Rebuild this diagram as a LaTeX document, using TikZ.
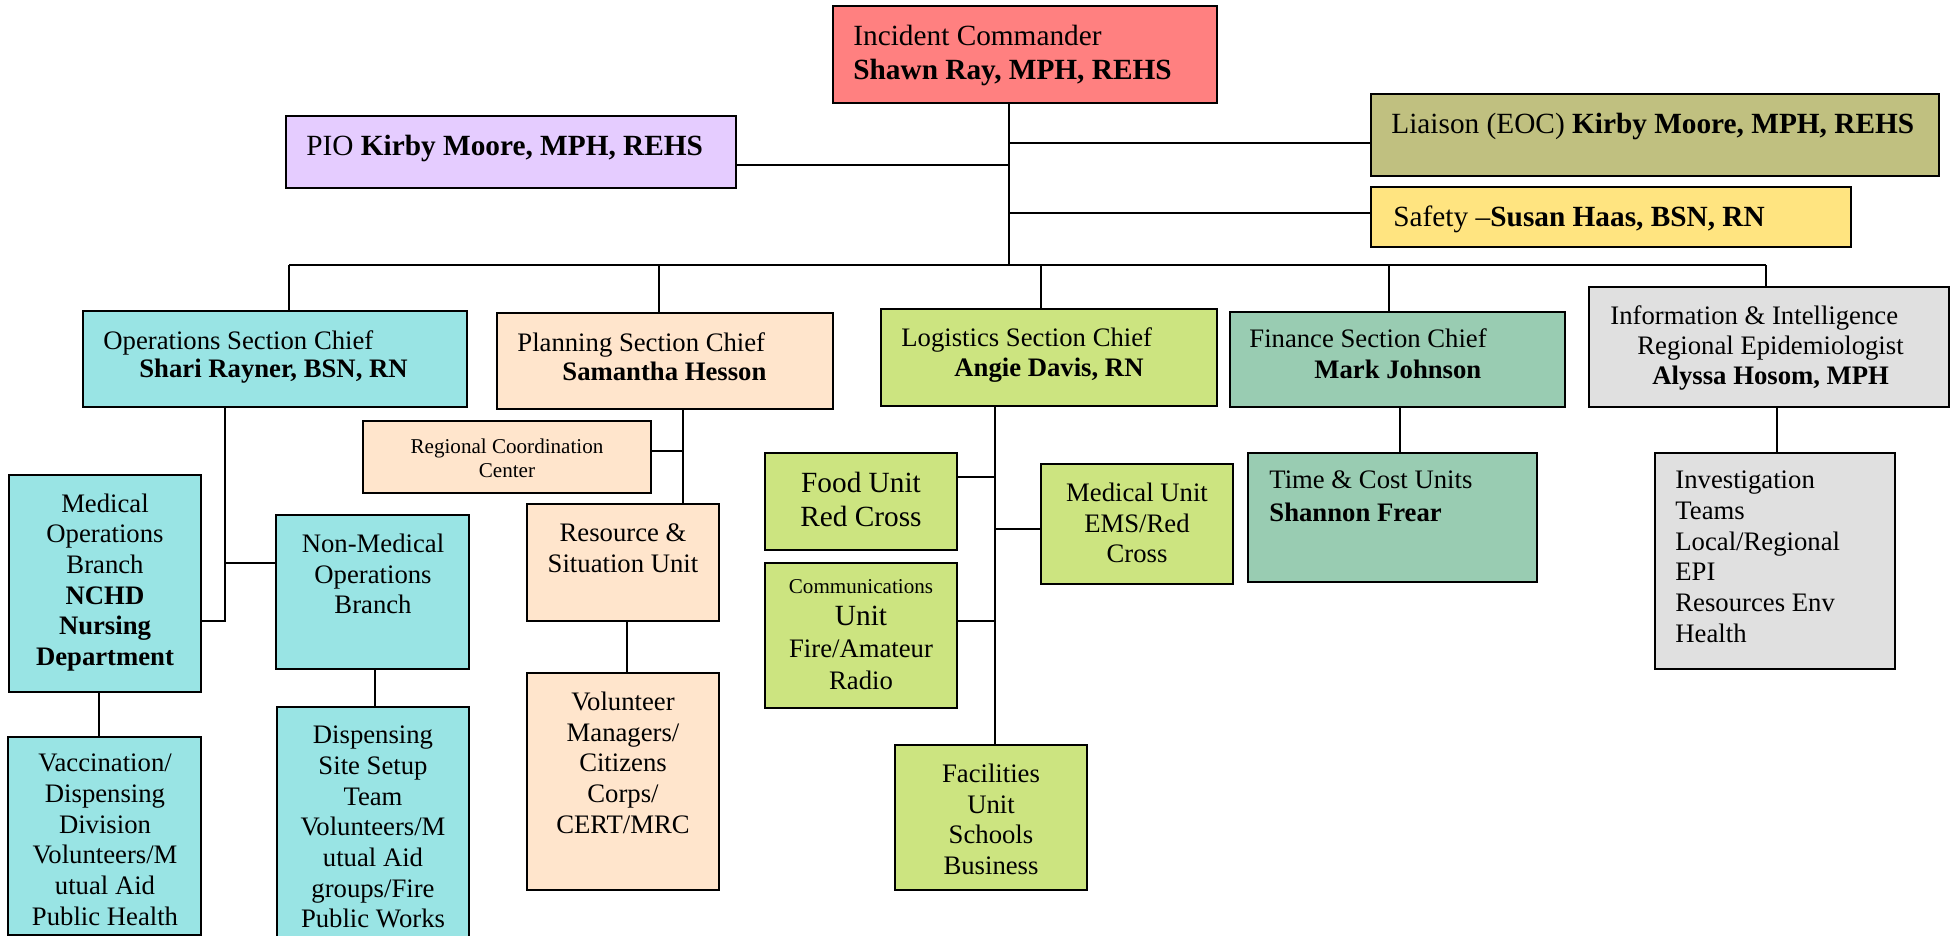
\documentclass[tikz,border=0pt]{standalone}
\usepackage{fontspec}
\setmainfont{Liberation Serif}
\usetikzlibrary{fit}
\definecolor{icred}{RGB}{255,128,128}
\definecolor{piocol}{RGB}{229,204,255}
\definecolor{licol}{RGB}{192,192,128}
\definecolor{sacol}{RGB}{255,228,128}
\definecolor{opscol}{RGB}{153,228,228}
\definecolor{plcol}{RGB}{255,229,204}
\definecolor{locol}{RGB}{204,228,128}
\definecolor{ficol}{RGB}{153,204,178}
\definecolor{infcol}{RGB}{224,224,224}
\newcommand\szN{\fontsize{13.35}{15.35}\selectfont}
\newcommand\szL{\fontsize{14.65}{17}\selectfont}
\newcommand\szS{\fontsize{10.55}{12.25}\selectfont}
\begin{document}
\begin{tikzpicture}[x=0.5pt,y=-0.5pt,
  box/.style={draw=black, line width=1.1pt, inner sep=0pt, outer sep=0pt},
  conn/.style={line width=0.9pt},
  tl/.style={inner sep=0pt, anchor=north west, align=left, font=\szN},
  tc/.style={inner sep=0pt, anchor=north, align=center, font=\szN},
]
\useasboundingbox (0,0) rectangle (1958,936);
\fill[white] (0,0) rectangle (1958,936);

% ---------- boxes ----------
\node[box, fill=icred,  fit={(833,6) (1217,103)}] (ic) {};
\node[box, fill=piocol, fit={(286,116) (736,188)}] (pio) {};
\node[box, fill=licol,  fit={(1371,94) (1939,176)}] (li) {};
\node[box, fill=sacol,  fit={(1371,187) (1851,247)}] (sa) {};
\node[box, fill=opscol, fit={(83,311) (467,407)}] (ops) {};
\node[box, fill=plcol,  fit={(497,313) (833,409)}] (pl) {};
\node[box, fill=locol,  fit={(881,309) (1217,406)}] (lo) {};
\node[box, fill=ficol,  fit={(1230,312) (1565,407)}] (fi) {};
\node[box, fill=infcol, fit={(1589,287) (1949,407)}] (inf) {};
\node[box, fill=opscol, fit={(9,475) (201,692)}] (med) {};
\node[box, fill=opscol, fit={(8,737) (201,935)}] (vac) {};
\node[box, fill=opscol, fit={(276,515) (469,669)}] (nm) {};
\node[box, fill=opscol, fit={(277,707) (469,945)}] (disp) {};
\node[box, fill=plcol,  fit={(363,421) (651,493)}] (rcc) {};
\node[box, fill=plcol,  fit={(527,504) (719,621)}] (res) {};
\node[box, fill=plcol,  fit={(527,673) (719,890)}] (vol) {};
\node[box, fill=locol,  fit={(765,453) (957,550)}] (food) {};
\node[box, fill=locol,  fit={(765,563) (957,708)}] (comm) {};
\node[box, fill=locol,  fit={(1041,464) (1233,584)}] (mu) {};
\node[box, fill=locol,  fit={(895,745) (1087,890)}] (fac) {};
\node[box, fill=ficol,  fit={(1248,453) (1537,582)}] (tc) {};
\node[box, fill=infcol, fit={(1655,453) (1895,669)}] (inv) {};

% ---------- texts ----------
\node[tl, font=\szL] (icT) at (853,24.7) {Incident Commander\\\textbf{Shawn Ray, MPH, REHS}};
\node[tl, font=\szL] (pioT) at (306,134.7) {PIO \textbf{Kirby Moore, MPH, REHS}};
\node[tl, font=\szL] (liT) at (1391,112.7) {Liaison (EOC) \textbf{Kirby Moore, MPH, REHS}};
\node[tl, font=\szL] (saT) at (1393,205.7) {Safety –\textbf{Susan Haas, BSN, RN}};

\node[tl] (opsT1) at (103,330.6) {Operations Section Chief};
\node[tl] (opsT2) at (139,359) {\textbf{Shari Rayner, BSN, RN}};
\node[tl] (plT1) at (517,332.6) {Planning Section Chief};
\node[tl] (plT2) at (562,361.6) {\textbf{Samantha Hesson}};
\node[tl] (loT1) at (901,327.6) {Logistics Section Chief};
\node[tl] (loT2) at (954,357.6) {\textbf{Angie Davis, RN}};
\node[tl] (fiT1) at (1249,328.6) {Finance Section Chief};
\node[tl] (fiT2) at (1314,359.6) {\textbf{Mark Johnson}};
\node[tl] (infT1) at (1610,305.6) {Information \& Intelligence};
\node[tl] (infT2) at (1637,335.6) {Regional Epidemiologist};
\node[tl] (infT3) at (1652,365.6) {\textbf{Alyssa Hosom, MPH}};

\node[tc] (medT) at (105,493.2) {Medical\\Operations\\Branch\\\textbf{NCHD}\\\textbf{Nursing}\\\textbf{Department}};
\node[tc] (vacT) at (105,753.6) {Vaccination/\\Dispensing\\Division\\Volunteers/M\\utual Aid\\Public Health};
\node[tc] (nmT) at (373,533.6) {Non-Medical\\Operations\\Branch};
\node[tc] (dispT) at (373,725.6) {Dispensing\\Site Setup\\Team\\Volunteers/M\\utual Aid\\groups/Fire\\Public Works};
\node[tc, font=\szS] (rccT) at (507,438) {Regional Coordination\\Center};
\node[tc] (resT) at (623,523.6) {Resource \&\\Situation Unit};
\node[tc] (volT) at (623,691.6) {Volunteer\\Managers/\\Citizens\\Corps/\\CERT/MRC};
\node[tc, font=\szL] (foodT) at (861,471.7) {Food Unit\\Red Cross};
\node[tc, font=\szS] (commT1) at (861,579.6) {Communications};
\node[tc, font=\szL] (commT2) at (861,606) {Unit};
\node[tc] (commT3) at (861,639.6) {Fire/Amateur};
\node[tc] (commT4) at (861,670.6) {Radio};
\node[tc] (muT) at (1137,482.6) {Medical Unit\\EMS/Red\\Cross};
\node[tc] (facT) at (991,763.6) {Facilities\\Unit\\Schools\\Business};
\node[tl] (tcT1) at (1269,470.6) {Time \& Cost Units};
\node[tl] (tcT2) at (1269,502.6) {\textbf{Shannon Frear}};
\node[tl] (invT) at (1675,470.6) {Investigation\\Teams\\Local/Regional\\EPI\\Resources Env\\Health};

% ---------- connectors ----------
\coordinate (tr) at (1009,265);
\coordinate (pioJ) at (1009,165);
\coordinate (liJ) at (1009,143);
\coordinate (saJ) at (1009,213);
\coordinate (busL) at (289,265);
\coordinate (busR) at (1766,265);
\coordinate (plJ) at (659,265);
\coordinate (loJ) at (1041,265);
\coordinate (fiJ) at (1389,265);

\draw[conn] (tr |- ic.south) -- (tr);
\draw[conn] (pioJ -| pio.east) -- (pioJ);
\draw[conn] (liJ) -- (liJ -| li.west);
\draw[conn] (saJ) -- (saJ -| sa.west);
\draw[conn] (busL) -- (busR);
\draw[conn] (busL) -- (busL |- ops.north);
\draw[conn] (plJ) -- (plJ |- pl.north);
\draw[conn] (loJ) -- (loJ |- lo.north);
\draw[conn] (fiJ) -- (fiJ |- fi.north);
\draw[conn] (busR) -- (busR |- inf.north);

% operations
\coordinate (opsB) at (225,621);
\coordinate (opsN) at (225,563);
\draw[conn] (opsB |- ops.south) -- (opsB) -- (opsB -| med.east);
\draw[conn] (opsN) -- (opsN -| nm.west);
\coordinate (mvX) at (99,700);
\draw[conn] (mvX |- med.south) -- (mvX |- vac.north);
\coordinate (ndX) at (375,700);
\draw[conn] (ndX |- nm.south) -- (ndX |- disp.north);

% planning
\coordinate (plV) at (683,451);
\draw[conn] (plV |- pl.south) -- (plV |- res.north);
\draw[conn] (plV -| rcc.east) -- (plV);
\coordinate (rvX) at (627,650);
\draw[conn] (rvX |- res.south) -- (rvX |- vol.north);

% logistics
\coordinate (loV) at (995,477);
\coordinate (loC) at (995,621);
\coordinate (loM) at (995,529);
\draw[conn] (loV |- lo.south) -- (loV |- fac.north);
\draw[conn] (loV -| food.east) -- (loV);
\draw[conn] (loC -| comm.east) -- (loC);
\draw[conn] (loM) -- (loM -| mu.west);

% finance and information
\coordinate (ftX) at (1400,430);
\draw[conn] (ftX |- fi.south) -- (ftX |- tc.north);
\coordinate (iiX) at (1777,430);
\draw[conn] (iiX |- inf.south) -- (iiX |- inv.north);
\end{tikzpicture}
\end{document}
